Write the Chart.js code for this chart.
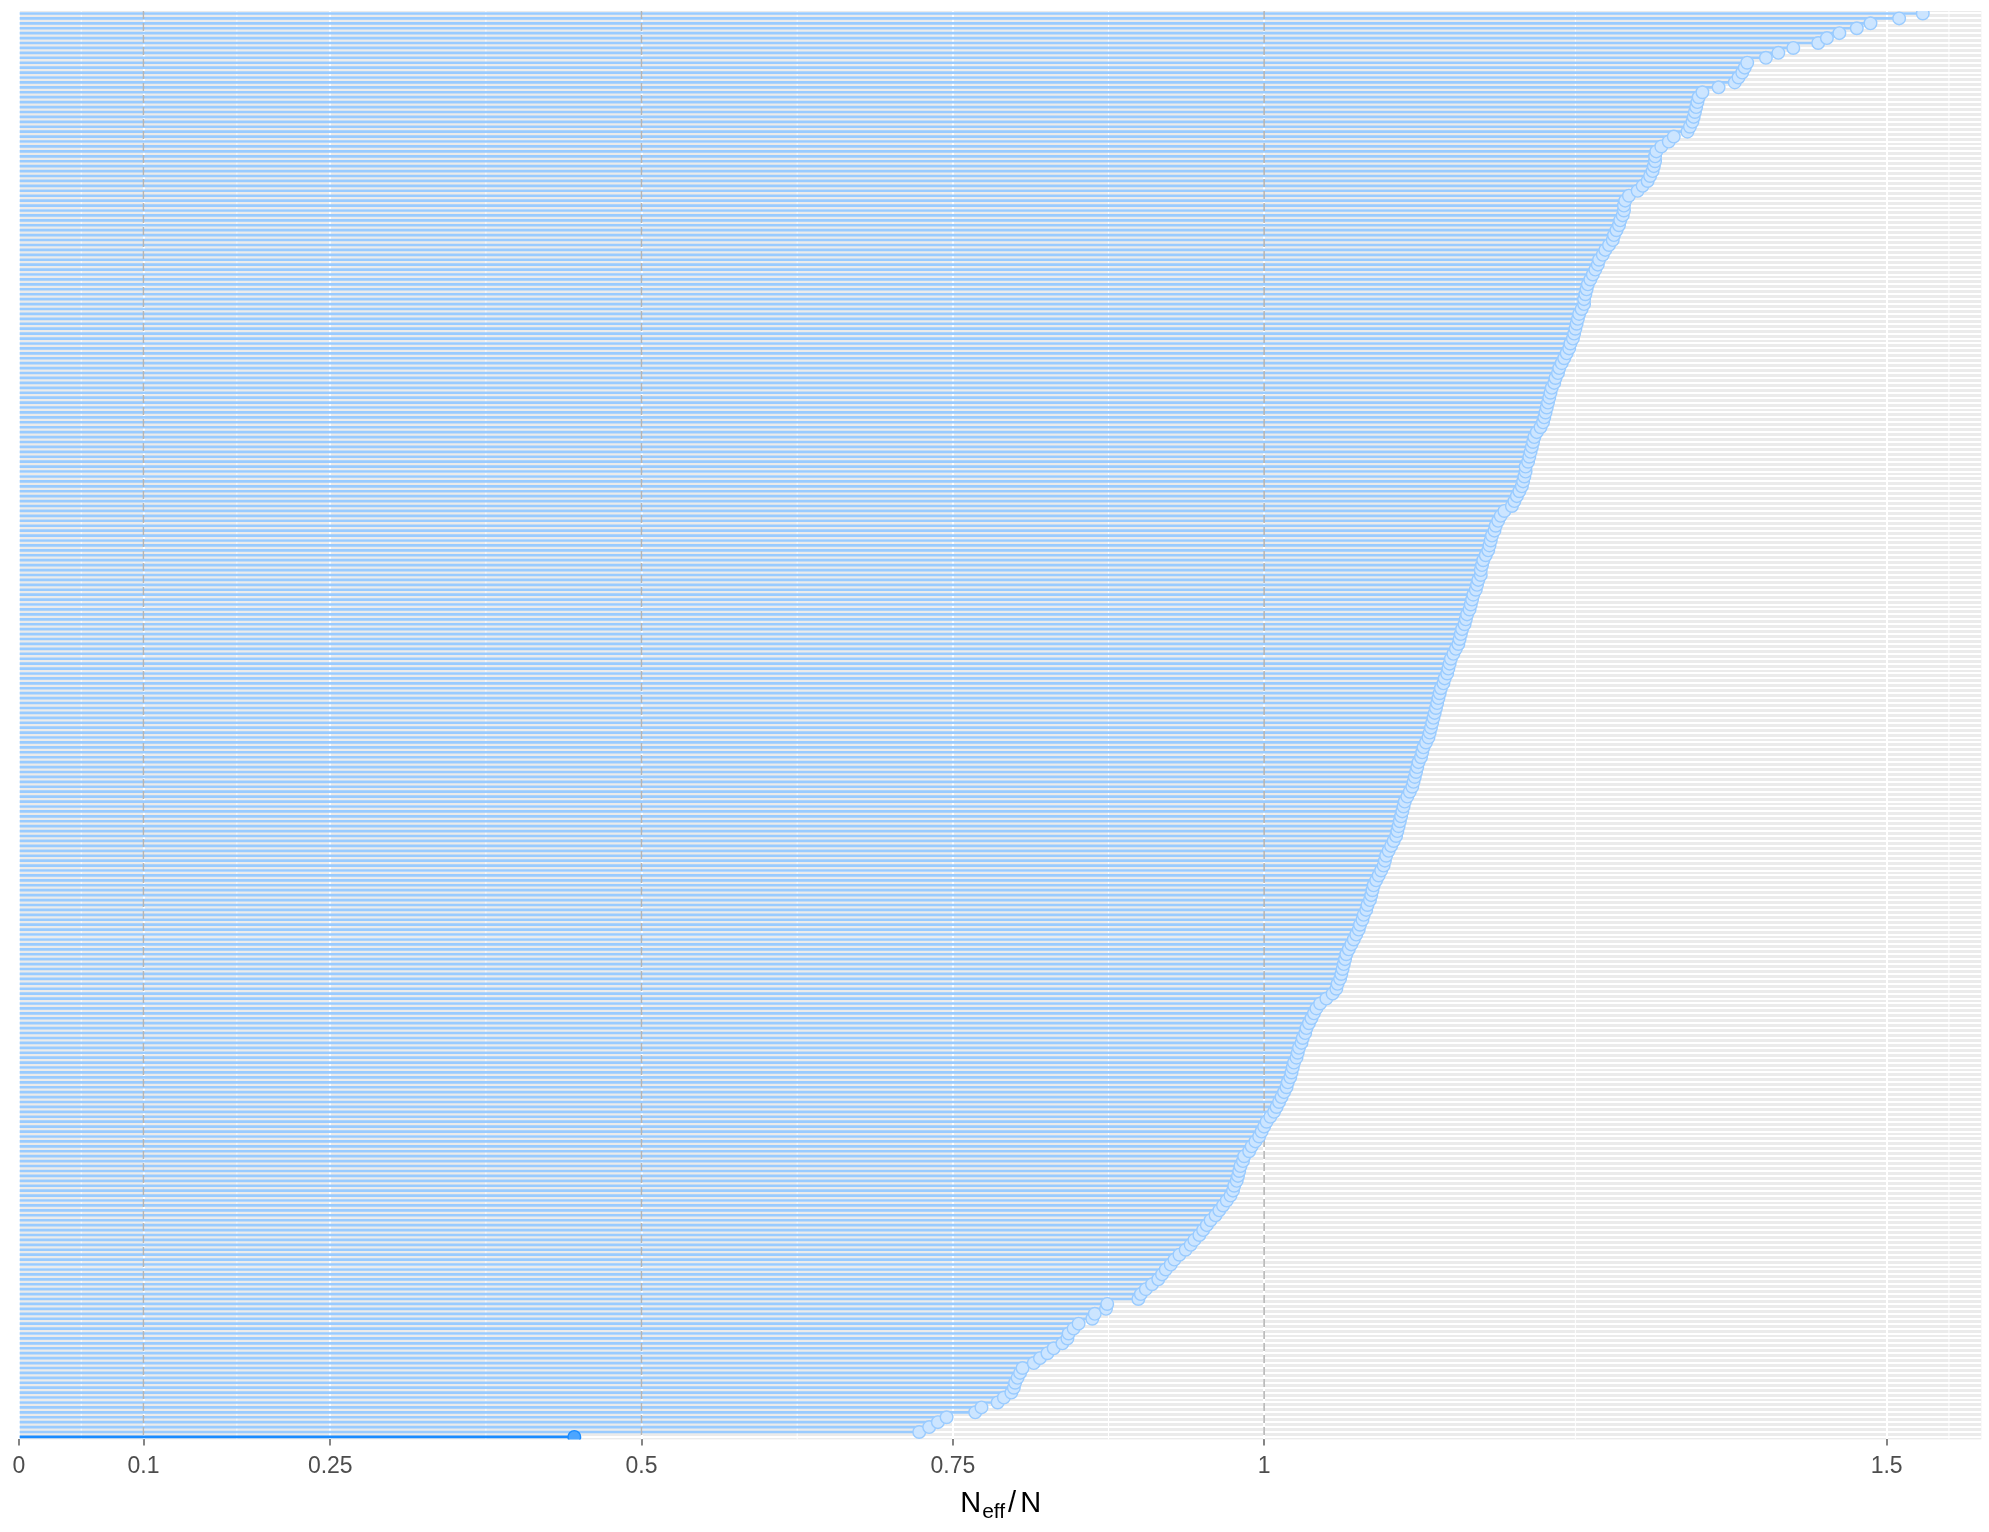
<!DOCTYPE html>
<html>
<head>
<meta charset="utf-8">
<script src="https://cdn.jsdelivr.net/npm/chart.js"></script>
<style>
  html, body { margin: 0; padding: 0; background: #fff; overflow: hidden; }
  #wrap { width: 1989px; height: 1532px; position: relative; }
</style>
</head>
<body>
<div id="wrap"><canvas id="myChart"></canvas></div>

<script>
// Neff/N ratios, sorted, bottom row first
const ratios = [
  0.446, 0.723, 0.731, 0.738, 0.745, 0.768, 0.773, 0.786, 0.791, 0.797,
  0.799, 0.800, 0.802, 0.804, 0.806, 0.815, 0.820, 0.826, 0.831, 0.838,
  0.842, 0.843, 0.847, 0.851, 0.862, 0.864, 0.873, 0.874, 0.899, 0.901,
  0.905, 0.910, 0.915, 0.918, 0.921, 0.925, 0.928, 0.932, 0.937, 0.941,
  0.944, 0.948, 0.951, 0.954, 0.957, 0.961, 0.964, 0.967, 0.970, 0.973,
  0.975, 0.976, 0.978, 0.979, 0.980, 0.981, 0.983, 0.984, 0.988, 0.990,
  0.993, 0.996, 0.998, 1.000, 1.002, 1.005, 1.008, 1.010, 1.012, 1.014,
  1.016, 1.018, 1.019, 1.021, 1.022, 1.023, 1.024, 1.026, 1.027, 1.028,
  1.030, 1.031, 1.033, 1.034, 1.036, 1.038, 1.040, 1.042, 1.045, 1.050,
  1.055, 1.058, 1.059, 1.061, 1.062, 1.063, 1.064, 1.065, 1.066, 1.068,
  1.070, 1.072, 1.074, 1.076, 1.077, 1.079, 1.080, 1.082, 1.083, 1.085,
  1.086, 1.087, 1.088, 1.090, 1.092, 1.094, 1.096, 1.097, 1.098, 1.100,
  1.102, 1.104, 1.106, 1.107, 1.108, 1.109, 1.110, 1.111, 1.112, 1.113,
  1.115, 1.117, 1.119, 1.120, 1.121, 1.122, 1.123, 1.124, 1.126, 1.127,
  1.128, 1.130, 1.132, 1.133, 1.134, 1.135, 1.136, 1.137, 1.138, 1.139,
  1.140, 1.141, 1.142, 1.144, 1.145, 1.147, 1.148, 1.149, 1.150, 1.152,
  1.154, 1.156, 1.157, 1.158, 1.159, 1.161, 1.162, 1.163, 1.165, 1.166,
  1.167, 1.168, 1.170, 1.171, 1.172, 1.174, 1.174, 1.175, 1.176, 1.178,
  1.180, 1.181, 1.182, 1.183, 1.185, 1.186, 1.188, 1.190, 1.193, 1.199,
  1.201, 1.203, 1.205, 1.207, 1.208, 1.209, 1.210, 1.210, 1.212, 1.213,
  1.214, 1.215, 1.216, 1.217, 1.219, 1.222, 1.224, 1.225, 1.226, 1.227,
  1.228, 1.229, 1.230, 1.231, 1.233, 1.234, 1.236, 1.237, 1.239, 1.241,
  1.243, 1.245, 1.246, 1.248, 1.249, 1.250, 1.251, 1.252, 1.253, 1.255,
  1.257, 1.257, 1.258, 1.259, 1.260, 1.262, 1.264, 1.266, 1.268, 1.269,
  1.272, 1.274, 1.277, 1.280, 1.281, 1.283, 1.285, 1.286, 1.288, 1.289,
  1.289, 1.290, 1.293, 1.300, 1.304, 1.308, 1.310, 1.312, 1.313, 1.314,
  1.314, 1.315, 1.319, 1.325, 1.329, 1.340, 1.342, 1.344, 1.345, 1.346,
  1.347, 1.348, 1.349, 1.352, 1.365, 1.378, 1.381, 1.384, 1.386, 1.388,
  1.403, 1.413, 1.425, 1.445, 1.452, 1.462, 1.476, 1.487, 1.510, 1.529
];
const params = ratios.map((r, i) => 'par[' + (i + 1) + ']');

const xTicks = [0, 0.1, 0.25, 0.5, 0.75, 1, 1.5];
const xMinor = [0.05, 0.175, 0.375, 0.625, 0.875, 1.25, 1.55];
const refLines = [0.1, 0.5, 1];
const xMax = 1.576;

// bright blue scheme
const light = '#cce5ff', lightHi = '#99cbff';
const mid = '#4ca5ff', midHi = '#198bff';
const dark = '#0065cc', darkHi = '#004c99';

function fillFor(r) { return r <= 0.1 ? dark : (r <= 0.5 ? mid : light); }
function lineFor(r) { return r <= 0.1 ? darkHi : (r <= 0.5 ? midHi : lightHi); }

const panelPlugin = {
  id: 'panel',
  beforeDraw(chart) {
    const {ctx, chartArea: a} = chart;
    ctx.save();
    ctx.fillStyle = '#ebebeb';
    ctx.fillRect(a.left, a.top, a.right - a.left, a.bottom - a.top);
    ctx.restore();
  },
  beforeDatasetsDraw(chart) {
    const {ctx, chartArea: a, scales} = chart;
    ctx.save();
    ctx.strokeStyle = '#ffffff';
    ctx.lineWidth = 1;
    xMinor.forEach(v => {
      const x = scales.x.getPixelForValue(v);
      ctx.beginPath(); ctx.moveTo(x, a.top); ctx.lineTo(x, a.bottom); ctx.stroke();
    });
    ctx.restore();
  },
  afterDatasetDraw(chart, args) {
    if (args.index !== 1) return;
    const {ctx, chartArea: a, scales} = chart;
    ctx.save();
    ctx.strokeStyle = '#b5b5b5';
    ctx.lineWidth = 1.6;
    ctx.setLineDash([8, 4]);
    refLines.forEach(v => {
      const x = scales.x.getPixelForValue(v);
      ctx.beginPath(); ctx.moveTo(x, a.top); ctx.lineTo(x, a.bottom); ctx.stroke();
    });
    ctx.restore();
  },
  afterDraw(chart) {
    // axis title N_eff / N
    const {ctx, chartArea: a} = chart;
    const big = '29px "Liberation Sans", Arial, sans-serif';
    const small = '21px "Liberation Sans", Arial, sans-serif';
    ctx.save();
    ctx.fillStyle = '#000';
    ctx.textBaseline = 'alphabetic';
    ctx.font = big;
    const wN = ctx.measureText('N').width;
    const wS = ctx.measureText('/').width + 6;
    ctx.font = small;
    const wE = ctx.measureText('eff').width + 1;
    const total = wN + wE + wS + wN;
    let x = (a.left + a.right) / 2 - total / 2;
    const y = 1512;
    ctx.font = big;
    ctx.fillText('N', x, y); x += wN + 1;
    ctx.font = small;
    ctx.fillText('eff', x, y + 6); x += wE;
    ctx.font = big;
    ctx.fillText('/', x + 2, y); x += wS;
    ctx.fillText('N', x, y);
    ctx.restore();
  }
};

const config = {
  type: 'bar',
  data: {
    labels: params,
    datasets: [
      {
        type: 'line',
        data: ratios,
        showLine: false,
        pointRadius: 6.3,
        pointBorderWidth: 1.4,
        pointBackgroundColor: ratios.map(fillFor),
        pointBorderColor: ratios.map(lineFor),
        clip: 0,
        order: 1
      },
      {
        type: 'bar',
        data: ratios,
        backgroundColor: ratios.map(lineFor),
        borderWidth: 0,
        barThickness: 2,
        order: 2
      }
    ]
  },
  options: {
    indexAxis: 'y',
    responsive: true,
    maintainAspectRatio: false,
    animation: false,
    layout: { padding: { left: 19, right: 0, top: 11, bottom: 45 } },
    plugins: { legend: { display: false }, tooltip: { enabled: false } },
    scales: {
      x: {
        type: 'linear',
        min: 0,
        max: xMax,
        afterBuildTicks: s => { s.ticks = xTicks.map(v => ({ value: v })); },
        border: { display: false },
        grid: { color: '#ffffff', lineWidth: 2, tickColor: '#333333', tickLength: 6, tickWidth: 1.2 },
        ticks: {
          autoSkip: false,
          maxRotation: 0,
          padding: 7,
          color: '#4d4d4d',
          font: { family: '"Liberation Sans", Arial, sans-serif', size: 23 },
          callback: v => String(v)
        }
      },
      y: {
        type: 'category',
        reverse: true,
        border: { display: false },
        grid: { color: '#ffffff', lineWidth: 2, offset: false, drawTicks: false },
        ticks: { display: false }
      }
    }
  },
  plugins: [panelPlugin]
};

var myChart = new Chart(document.getElementById('myChart'), config);
</script>
</body>
</html>
